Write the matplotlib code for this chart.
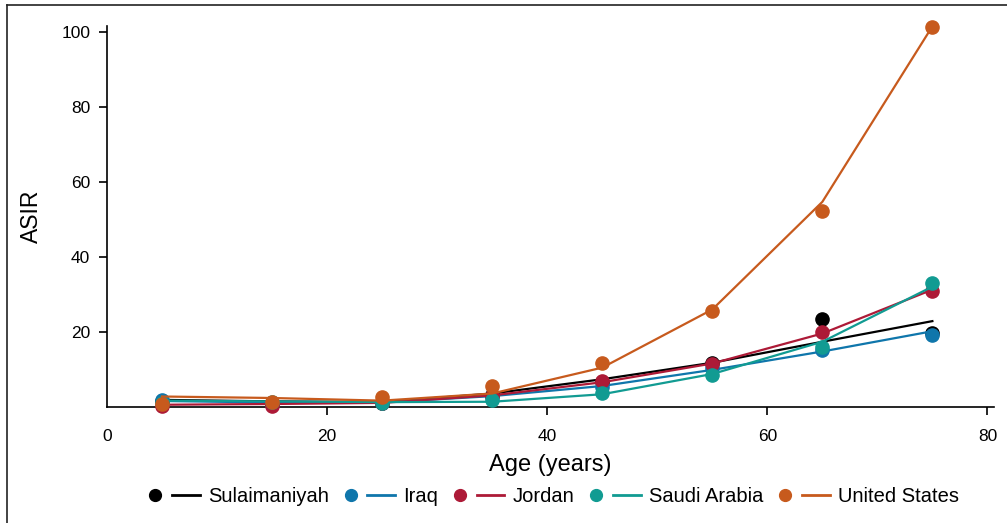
import matplotlib
matplotlib.use("Agg")
import matplotlib.pyplot as plt
from matplotlib.lines import Line2D
from matplotlib.legend_handler import HandlerTuple

plt.rcParams['font.family'] = ['Liberation Sans', 'DejaVu Sans']

ages = [5, 15, 25, 35, 45, 55, 65, 75]
series_names = ["Sulaimaniyah", "Iraq", "Jordan", "Saudi Arabia", "United States"]
series_colors = ["#000000", "#0f76ab", "#ad1a37", "#119b92", "#c75a1d"]

# observed points
sul_pts = [1.5, 1.0, 1.2, 3.2, 6.8, 11.8, 23.4, 19.8]
iraq_pts = [1.8, 0.8, 1.2, 2.8, 5.4, 10.5, 15.3, 19.3]
jor_pts = [0.4, 0.2, 1.0, 3.0, 7.0, 11.5, 20.0, 31.0]
sau_pts = [1.0, 1.3, 1.1, 2.0, 3.8, 8.5, 15.9, 33.2]
us_pts = [0.8, 1.4, 2.6, 5.6, 11.7, 25.6, 52.3, 101.3]

# fitted lines
sul_fit = [1.9, 1.5, 1.3, 3.6, 7.4, 11.8, 17.4, 22.9]
iraq_fit = [1.6, 1.2, 1.2, 2.9, 5.6, 9.9, 14.8, 20.2]
jor_fit = [0.6, 0.8, 1.1, 3.1, 6.6, 11.6, 19.6, 31.3]
sau_fit = [1.7, 1.5, 1.3, 1.4, 3.4, 8.8, 17.4, 32.1]
us_fit = [2.8, 2.4, 1.7, 3.6, 10.5, 26.0, 54.7, 101.5]

x_ticks = [0, 20, 40, 60, 80]
y_ticks = [20, 40, 60, 80, 100]

pts = [sul_pts, iraq_pts, jor_pts, sau_pts, us_pts]
fits = [sul_fit, iraq_fit, jor_fit, sau_fit, us_fit]

fig = plt.figure(figsize=(10.07, 5.23), dpi=100)
ax = fig.add_axes([107/1007, 1-407/523, (994-107)/1007, (407-26)/523])

handles = []
for name, col, p, f in zip(series_names, series_colors, pts, fits):
    ax.plot(ages, p, 'o', color=col, markersize=9.5, zorder=3, clip_on=False)
    ax.plot(ages, f, '-', color=col, linewidth=1.6, zorder=3, clip_on=False)
    mh = Line2D([], [], marker='o', linestyle='none', color=col, markersize=8.5)
    lh = Line2D([], [], linestyle='-', color=col, linewidth=2)
    handles.append((mh, lh))

ax.set_xlim(0, 80.6)
ax.set_ylim(0, 101.6)
ax.set_xticks(x_ticks)
ax.set_yticks(y_ticks)
ax.spines['top'].set_visible(False)
ax.spines['right'].set_visible(False)
for s in ['left', 'bottom']:
    ax.spines[s].set_linewidth(1.2)
ax.tick_params(axis='x', direction='out', length=6, width=1.2, labelsize=12.5, pad=10)
ax.tick_params(axis='y', direction='out', length=6, width=1.2, labelsize=12.5, pad=6)
ax.xaxis.get_major_ticks()[0].tick1line.set_visible(False)
ax.set_xlabel("Age (years)", fontsize=17, labelpad=7)
ax.set_ylabel("ASIR", fontsize=16.5, labelpad=13)

leg = fig.legend(handles, series_names, loc='center',
                 bbox_to_anchor=(550/1007, 1-497/523), ncol=5, frameon=False,
                 handler_map={tuple: HandlerTuple(ndivide=None, pad=0.15)},
                 handlelength=2.9, handletextpad=0.4, columnspacing=0.4,
                 fontsize=14.5)

# figure frame (left and top edges)
fig.add_artist(Line2D([7/1007, 7/1007], [0, 1-5/523], transform=fig.transFigure,
                      color='#222222', linewidth=1.2))
fig.add_artist(Line2D([7/1007, 1], [1-5/523, 1-5/523], transform=fig.transFigure,
                      color='#222222', linewidth=1.2))

fig.savefig("out.png", dpi=100)
